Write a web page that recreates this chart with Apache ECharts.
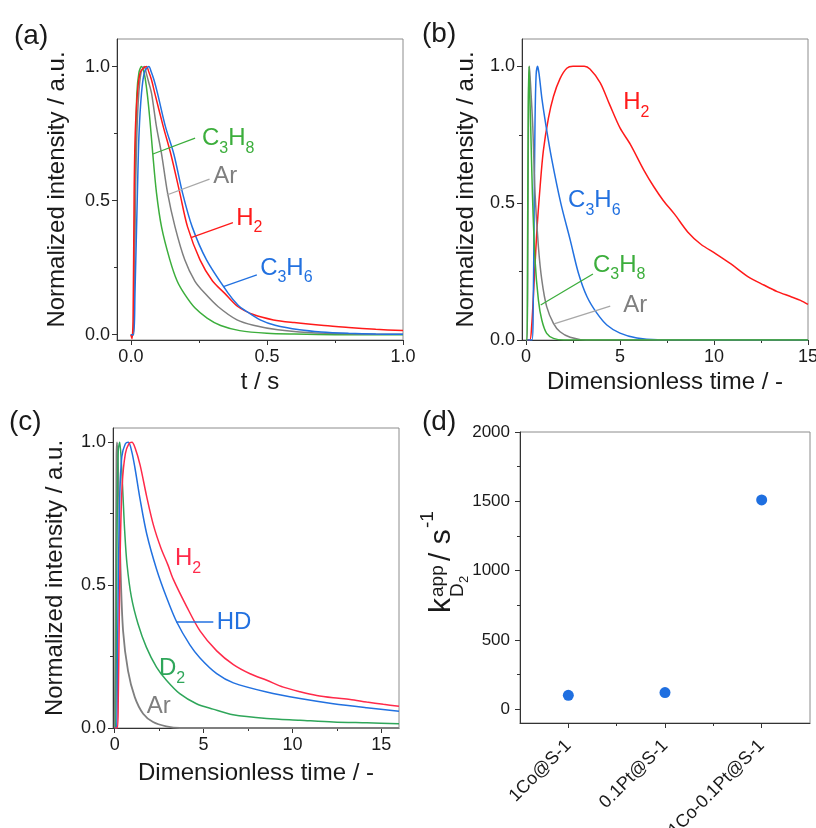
<!DOCTYPE html>
<html>
<head>
<meta charset="utf-8">
<script src="https://cdn.jsdelivr.net/npm/echarts@6/dist/echarts.min.js"></script>
<style>
  html, body { margin: 0; padding: 0; background: #fff; }
  #chart { width: 816px; height: 828px; }
</style>
</head>
<body>
<div id="chart"></div>
<script>
// ---------- (a) normalized pulse responses vs. real time, [t (s), intensity] ----------
const aC3H8 = [[0,0],[0.008,0],[0.011,0.15],[0.015,0.53],[0.018,0.72],[0.022,0.9],[0.03,0.98],[0.039,1.0],[0.05,0.97],[0.06,0.9],[0.07,0.8],[0.08,0.68],[0.094,0.53],[0.113,0.4],[0.143,0.28],[0.17,0.2],[0.198,0.15],[0.235,0.1],[0.28,0.062],[0.33,0.034],[0.4,0.015],[0.5,0.005],[0.6,0.002],[0.75,0],[1.0,0]];
const aAr   = [[0,0],[0.009,0],[0.012,0.15],[0.017,0.53],[0.022,0.75],[0.029,0.9],[0.038,0.98],[0.049,1.0],[0.058,0.97],[0.066,0.94],[0.076,0.9],[0.094,0.776],[0.113,0.673],[0.135,0.528],[0.162,0.403],[0.198,0.279],[0.235,0.2],[0.272,0.154],[0.321,0.104],[0.39,0.055],[0.45,0.035],[0.54,0.018],[0.65,0.008],[0.8,0.003],[1.0,0.001]];
const aH2   = [[0,0],[0.004,-0.015],[0.008,0.05],[0.012,0.53],[0.016,0.75],[0.024,0.9],[0.035,0.98],[0.057,1.0],[0.066,0.98],[0.076,0.95],[0.088,0.9],[0.119,0.776],[0.147,0.673],[0.18,0.528],[0.208,0.403],[0.254,0.279],[0.3,0.2],[0.345,0.154],[0.394,0.104],[0.45,0.075],[0.524,0.055],[0.6,0.045],[0.71,0.034],[0.8,0.027],[0.9,0.02],[1.0,0.015]];
const aC3H6 = [[0,0],[0.01,0],[0.015,0.15],[0.024,0.53],[0.03,0.75],[0.039,0.9],[0.05,0.98],[0.066,1.0],[0.075,0.98],[0.085,0.95],[0.098,0.9],[0.127,0.776],[0.158,0.673],[0.19,0.528],[0.225,0.403],[0.278,0.279],[0.358,0.154],[0.394,0.11],[0.42,0.09],[0.475,0.055],[0.53,0.035],[0.62,0.018],[0.7,0.01],[0.8,0.005],[0.9,0.002],[1.0,0.001]];

// ---------- (b) same responses vs. dimensionless time ----------
const bC3H8 = [[0,0],[0.05,0],[0.08,0.3],[0.12,0.85],[0.16,1.0],[0.2,0.9],[0.25,0.78],[0.34,0.537],[0.48,0.293],[0.66,0.146],[0.84,0.073],[1.1,0.024],[1.46,0.006],[2.0,0],[15,0]];
const bAr   = [[0,0],[0.06,0],[0.1,0.4],[0.14,0.9],[0.18,1.0],[0.22,0.96],[0.36,0.78],[0.48,0.537],[0.66,0.341],[0.84,0.22],[1.1,0.122],[1.46,0.061],[1.81,0.03],[2.35,0.01],[3.2,0],[15,0]];
const bC3H6 = [[0,0],[0.32,0],[0.38,0.1],[0.43,0.45],[0.48,0.8],[0.54,0.97],[0.62,1.0],[0.7,0.97],[0.85,0.88],[1.07,0.78],[1.37,0.66],[1.85,0.5],[2.35,0.366],[2.79,0.244],[3.24,0.159],[3.77,0.098],[4.3,0.055],[5.0,0.025],[5.9,0.007],[7.0,0.001],[15,0]];
const bH2   = [[0,0],[0.2,0],[0.3,0.05],[0.4,0.17],[0.57,0.39],[0.75,0.56],[0.92,0.69],[1.19,0.81],[1.46,0.89],[1.81,0.955],[2.17,0.993],[2.5,1.0],[3.1,1.0],[3.4,0.99],[3.95,0.94],[4.45,0.86],[5.0,0.775],[5.55,0.715],[6.26,0.622],[6.8,0.56],[7.3,0.51],[7.9,0.46],[8.6,0.395],[9.3,0.35],[10.1,0.315],[10.9,0.278],[11.8,0.232],[12.65,0.201],[13.36,0.177],[14.07,0.159],[14.6,0.145],[15,0.13]];

// ---------- (c) H2/D2 exchange responses vs. dimensionless time ----------
const cAr = [[0,0],[0.03,0],[0.06,0.5],[0.1,0.95],[0.13,1.0],[0.18,0.93],[0.24,0.808],[0.32,0.575],[0.47,0.341],[0.75,0.2],[1.13,0.108],[1.6,0.05],[2.16,0.021],[2.9,0.006],[3.66,0],[16,0]];
const cD2 = [[0,0],[0.05,0],[0.1,0.4],[0.15,0.8],[0.2,0.97],[0.28,1.0],[0.38,0.924],[0.47,0.808],[0.56,0.691],[0.69,0.575],[0.94,0.458],[1.31,0.365],[1.78,0.283],[2.35,0.213],[2.91,0.167],[3.66,0.12],[4.6,0.085],[5.53,0.066],[6.66,0.046],[8.55,0.033],[10.43,0.027],[12.3,0.021],[14.18,0.018],[16,0.015]];
const cHD = [[0,0],[0.1,0],[0.15,0.2],[0.2,0.5],[0.28,0.8],[0.4,0.95],[0.6,0.995],[0.77,1.0],[0.95,0.97],[1.14,0.91],[1.43,0.8],[1.8,0.68],[2.36,0.555],[2.93,0.455],[3.49,0.371],[4.24,0.29],[4.8,0.245],[5.74,0.19],[6.68,0.158],[8.55,0.126],[10.43,0.103],[12.3,0.085],[14.18,0.071],[16,0.059]];
const cH2 = [[0,0],[0.15,0],[0.2,0.1],[0.25,0.35],[0.32,0.65],[0.42,0.85],[0.6,0.96],[0.8,0.995],[0.97,1.0],[1.15,0.98],[1.43,0.92],[1.8,0.81],[2.18,0.71],[2.6,0.63],[3.0,0.57],[3.3,0.52],[4.05,0.425],[4.8,0.34],[5.74,0.27],[6.68,0.222],[7.62,0.19],[8.56,0.167],[9.49,0.143],[10.43,0.127],[11.37,0.114],[12.3,0.106],[13.25,0.1],[14.18,0.091],[15.12,0.083],[16,0.076]];

// ---------- (d) apparent D2 rate constants ----------
const dCatalysts = ['1Co@S-1', '0.1Pt@S-1', '1Co-0.1Pt@S-1'];
const dK = [100, 120, 1510];

// ---------- tick values ----------
const aXTicks = [0, 0.5, 1.0],   aXMinor = [0.25, 0.75];
const aYTicks = [0, 0.5, 1.0],   aYMinor = [0.25, 0.75];
const bXTicks = [0, 5, 10, 15],  bXMinor = [2.5, 7.5, 12.5];
const bYTicks = [0, 0.5, 1.0],   bYMinor = [0.25, 0.75];
const cXTicks = [0, 5, 10, 15],  cXMinor = [2.5, 7.5, 12.5];
const cYTicks = [0, 0.5, 1.0],   cYMinor = [0.25, 0.75];
const dXTicks = [1, 2, 3],       dXMinor = [1.5, 2.5];
const dYTicks = [0, 500, 1000, 1500, 2000], dYMinor = [250, 750, 1250, 1750];

// ---------- styling ----------
const FONT = '"Liberation Sans", Arial, Helvetica, sans-serif';
const INK = '#1a1a1a';
const AXIS = '#333';
const FRAME = '#8c8c8c';
const RED = '#ff1a1a', RED_C = '#ff2a4a';
const BLUE = '#2271e0';
const GREEN = '#3cae3c', GREEN_C = '#2fa65a';
const GRAY = '#7f7f7f';

// fixed plot frames; labels may run past the canvas edge
const grids = [
  { left: 117, top: 39,  width: 286, height: 301 },
  { left: 522, top: 39,  width: 286, height: 301 },
  { left: 113, top: 428, width: 286, height: 300 },
  { left: 520, top: 432, width: 290, height: 291 }
].map(g => Object.assign({
  show: true, borderColor: FRAME, borderWidth: 1, backgroundColor: 'transparent',
  containLabel: false, outerBoundsMode: 'none'
}, g));

// Each axis is drawn as a pair: one carrying line, major ticks and labels,
// one overlaid carrying only the short minor ticks.
function axisPair(gridIndex, o) {
  const major = {
    type: 'value', gridIndex, min: o.min, max: o.max, position: o.position,
    axisLine: { show: true, onZero: false, lineStyle: { color: AXIS, width: 1 } },
    axisTick: { show: true, inside: false, length: 5, customValues: o.majors, lineStyle: { color: AXIS, width: 1 } },
    axisLabel: {
      customValues: o.majors, formatter: o.fmt, fontSize: o.labelSize || 18, color: INK,
      fontFamily: FONT, margin: o.margin, rotate: o.rotate || 0
    },
    splitLine: { show: false },
    name: o.name || '', nameLocation: 'middle', nameGap: o.nameGap || 0,
    nameTextStyle: { fontSize: 24, color: INK, fontFamily: FONT }
  };
  const minor = {
    type: 'value', gridIndex, min: o.min, max: o.max, position: o.position,
    axisLine: { show: false, onZero: false },
    axisTick: { show: true, inside: false, length: 3, customValues: o.minors, lineStyle: { color: AXIS, width: 1 } },
    axisLabel: { show: false },
    splitLine: { show: false }
  };
  return [major, minor];
}

const f1 = v => v.toFixed(1);
const f0 = v => String(v);

const xAxes = [].concat(
  axisPair(0, { position: 'bottom', min: -0.051, max: 1.0, majors: aXTicks, minors: aXMinor, fmt: f1, margin: 8, name: 't / s', nameGap: 30 }),
  axisPair(1, { position: 'bottom', min: -0.213, max: 15, majors: bXTicks, minors: bXMinor, fmt: f0, margin: 8, name: 'Dimensionless time / -', nameGap: 30 }),
  axisPair(2, { position: 'bottom', min: -0.096, max: 16, majors: cXTicks, minors: cXMinor, fmt: f0, margin: 8, name: 'Dimensionless time / -', nameGap: 33 }),
  axisPair(3, { position: 'bottom', min: 0.5, max: 3.5, majors: dXTicks, minors: dXMinor, fmt: v => dCatalysts[Math.round(v) - 1], margin: 20, rotate: 45, labelSize: 18 })
);
const yAxes = [].concat(
  axisPair(0, { position: 'left', min: -0.02, max: 1.103, majors: aYTicks, minors: aYMinor, fmt: f1, margin: 7, name: 'Normalized intensity / a.u.', nameGap: 48 }),
  axisPair(1, { position: 'left', min: 0, max: 1.1, majors: bYTicks, minors: bYMinor, fmt: f1, margin: 7, name: 'Normalized intensity / a.u.', nameGap: 44 }),
  axisPair(2, { position: 'left', min: 0, max: 1.05, majors: cYTicks, minors: cYMinor, fmt: f1, margin: 7, name: 'Normalized intensity / a.u.', nameGap: 46 }),
  axisPair(3, { position: 'left', min: -100, max: 2000, majors: dYTicks, minors: dYMinor, fmt: f0, margin: 10, labelSize: 17 })
);

function curve(panel, data, color, width) {
  return {
    type: 'line', xAxisIndex: panel * 2, yAxisIndex: panel * 2, data,
    showSymbol: false, symbol: 'none', smooth: 0.3, clip: true,
    lineStyle: { color, width: width || 1.5 }, itemStyle: { color }, silent: true, z: 3
  };
}

const series = [
  curve(0, aC3H8, GREEN), curve(0, aAr, GRAY), curve(0, aH2, RED), curve(0, aC3H6, BLUE),
  curve(1, bH2, RED), curve(1, bC3H6, BLUE), curve(1, bAr, GRAY), curve(1, bC3H8, GREEN),
  curve(2, cAr, GRAY, 1.8), curve(2, cD2, GREEN_C), curve(2, cHD, BLUE), curve(2, cH2, RED_C),
  {
    type: 'scatter', xAxisIndex: 6, yAxisIndex: 6,
    data: dK.map((k, i) => [i + 1, k]),
    symbol: 'circle', symbolSize: 11, itemStyle: { color: '#1f6fe0', opacity: 1 }, z: 4
  }
];

const chart = echarts.init(document.getElementById('chart'), null, { renderer: 'canvas' });
chart.setOption({
  backgroundColor: '#ffffff',
  animation: false,
  textStyle: { fontFamily: FONT },
  grid: grids,
  xAxis: xAxes,
  yAxis: yAxes,
  series
});

// ---------- curve labels with pointer lines, placed in data coordinates ----------
const chem = {
  C3H8: '{n|C}{s|3}{n|H}{s|8}', C3H6: '{n|C}{s|3}{n|H}{s|6}',
  H2: '{n|H}{s|2}', D2: '{n|D}{s|2}', Ar: '{n|Ar}', HD: '{n|HD}'
};
const LIGHT = '#a8a8a8';
const notes = [
  { g: 0, t: chem.C3H8, c: GREEN, at: [0.261, 0.732], line: [[0.081, 0.674], [0.236, 0.733]], lc: GREEN },
  { g: 0, t: chem.Ar,   c: GRAY,  at: [0.303, 0.592], line: [[0.132, 0.521], [0.289, 0.58]], lc: LIGHT },
  { g: 0, t: chem.H2,   c: RED,   at: [0.387, 0.435], line: [[0.221, 0.362], [0.375, 0.418]], lc: RED },
  { g: 0, t: chem.C3H6, c: BLUE,  at: [0.475, 0.249], line: [[0.34, 0.179], [0.463, 0.223]], lc: BLUE },
  { g: 1, t: chem.H2,   c: RED,   at: [5.17, 0.867] },
  { g: 1, t: chem.C3H6, c: BLUE,  at: [2.24, 0.509] },
  { g: 1, t: chem.C3H8, c: GREEN, at: [3.56, 0.274], line: [[0.78, 0.128], [3.56, 0.241]], lc: GREEN },
  { g: 1, t: chem.Ar,   c: GRAY,  at: [5.17, 0.128], line: [[1.49, 0.059], [4.48, 0.124]], lc: LIGHT },
  { g: 2, t: chem.H2,   c: RED_C, at: [3.39, 0.593] },
  { g: 2, t: chem.HD,   c: BLUE,  at: [5.74, 0.37], line: [[3.45, 0.371], [5.55, 0.371]], lc: BLUE },
  { g: 2, t: chem.D2,   c: GREEN_C, at: [2.49, 0.209] },
  { g: 2, t: chem.Ar,   c: GRAY,  at: [1.8, 0.076] }
];

function richFor(color) {
  return {
    n: { fontSize: 24, lineHeight: 24, verticalAlign: 'top', fontFamily: FONT, fill: color },
    s: { fontSize: 16, lineHeight: 16, verticalAlign: 'top', padding: [14, 0, 0, 0], fontFamily: FONT, fill: color }
  };
}

const graphics = [];
notes.forEach(nt => {
  const px = p => chart.convertToPixel({ gridIndex: nt.g }, p);
  if (nt.line) {
    const a = px(nt.line[0]), b = px(nt.line[1]);
    graphics.push({ type: 'line', shape: { x1: a[0], y1: a[1], x2: b[0], y2: b[1] },
      style: { stroke: nt.lc, lineWidth: 1.3 }, z: 10, silent: true });
  }
  const p = px(nt.at);
  graphics.push({ type: 'text', x: p[0], y: p[1] - 12, z: 11, silent: true,
    style: { text: nt.t, rich: richFor(nt.c), fill: nt.c, align: 'left', verticalAlign: 'top', font: '24px ' + FONT } });
});

// panel letters
[['(a)', 14, 36], ['(b)', 422, 34], ['(c)', 9, 422], ['(d)', 422, 422]].forEach(([t, x, y]) => {
  graphics.push({ type: 'text', x, y, silent: true,
    style: { text: t, fill: INK, font: '28px ' + FONT, align: 'left', verticalAlign: 'middle' } });
});

// (d) axis title: k with stacked "app" / "D2", then "/ s^-1", read bottom-to-top
const dTitle = {
  type: 'group', x: 452, y: 613, rotation: Math.PI / 2, silent: true,
  children: [
    { type: 'text', x: 0,  y: -10.5, style: { text: 'k',   fill: INK, font: '30px ' + FONT, verticalAlign: 'middle' } },
    { type: 'text', x: 16, y: -14,   style: { text: 'app', fill: INK, font: '19px ' + FONT, verticalAlign: 'middle' } },
    { type: 'text', x: 16, y: 6,     style: { text: 'D',   fill: INK, font: '19px ' + FONT, verticalAlign: 'middle' } },
    { type: 'text', x: 30, y: 12,    style: { text: '2',   fill: INK, font: '13px ' + FONT, verticalAlign: 'middle' } },
    { type: 'text', x: 52, y: -10.5, style: { text: '/ s', fill: INK, font: '30px ' + FONT, verticalAlign: 'middle' } },
    { type: 'text', x: 85, y: -24,   style: { text: '-1',  fill: INK, font: '19px ' + FONT, verticalAlign: 'middle' } }
  ]
};
graphics.push(dTitle);

chart.setOption({ graphic: graphics });
</script>
</body>
</html>
